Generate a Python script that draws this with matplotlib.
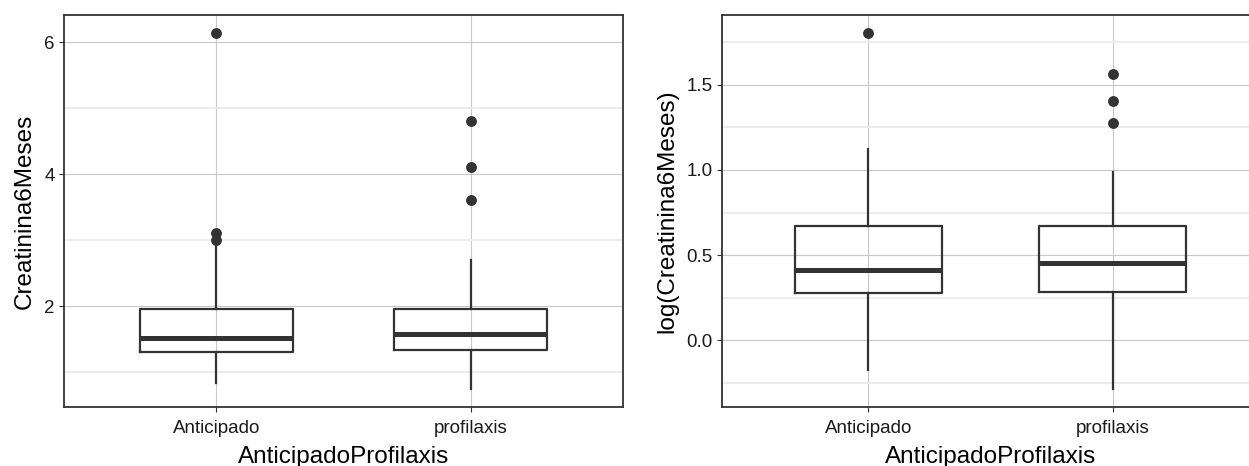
import matplotlib
matplotlib.use("Agg")
import matplotlib.pyplot as plt
from matplotlib.ticker import MultipleLocator

plt.rcParams['font.family'] = ['Liberation Sans', 'DejaVu Sans']

# values
groups = ["Anticipado", "profilaxis"]

# raw Creatinina6Meses
raw_whislo = [0.83, 0.74]
raw_q1 = [1.30, 1.33]
raw_med = [1.52, 1.58]
raw_q3 = [1.95, 1.95]
raw_whishi = [2.91, 2.70]
raw_fliers = [[3.0, 3.1, 6.14], [3.6, 4.1, 4.8]]

# log(Creatinina6Meses)
log_whislo = [-0.176, -0.288]
log_q1 = [0.276, 0.282]
log_med = [0.41, 0.453]
log_q3 = [0.67, 0.67]
log_whishi = [1.125, 0.988]
log_fliers = [[1.806], [1.276, 1.406, 1.565]]

ink = '#333333'
W, H = 1249, 466


def make_stats(lo, q1, med, q3, hi, fl):
    return [dict(label=g, whislo=lo[i], q1=q1[i], med=med[i], q3=q3[i],
                 whishi=hi[i], fliers=fl[i]) for i, g in enumerate(groups)]


def draw_panel(ax, stats, ylabel, major, minor):
    ax.bxp(stats, positions=[1, 2], widths=0.6, showcaps=False,
           boxprops=dict(color=ink, linewidth=1.6),
           whiskerprops=dict(color=ink, linewidth=1.6),
           medianprops=dict(color=ink, linewidth=3.6, solid_capstyle='butt'),
           flierprops=dict(marker='o', markerfacecolor=ink, markeredgecolor=ink,
                           markersize=6.8))
    ax.set_xlim(0.4, 2.6)
    # ggplot-like 5% expansion of the data range
    all_vals = []
    for s in stats:
        all_vals += [s['whislo'], s['whishi']] + list(s['fliers'])
    lo, hi = min(all_vals), max(all_vals)
    pad = (hi - lo) * 0.05
    ax.set_ylim(lo - pad, hi + pad)
    ax.yaxis.set_major_locator(MultipleLocator(major))
    ax.yaxis.set_minor_locator(MultipleLocator(minor))
    ax.set_axisbelow(True)
    ax.grid(True, which='major', color='#c8c8c8', linewidth=0.8)
    ax.grid(True, which='minor', axis='y', color='#ebebeb', linewidth=1.3)
    ax.tick_params(which='minor', length=0)
    ax.tick_params(which='major', length=3.5, width=0.8, color=ink,
                   labelsize=13.5, labelcolor='#1a1a1a')
    ax.tick_params(axis='x', pad=6)
    ax.tick_params(axis='y', pad=3)
    for sp in ax.spines.values():
        sp.set_color(ink)
        sp.set_linewidth(1.3)
    ax.set_xticks([1, 2])
    ax.set_xticklabels(groups)
    ax.set_xlabel("AnticipadoProfilaxis", fontsize=17.5, labelpad=6)
    ax.set_ylabel(ylabel, fontsize=17.5, labelpad=6)


fig = plt.figure(figsize=(W / 100, H / 100), dpi=100, facecolor='white')

ax1 = fig.add_axes([64 / W, (H - 407) / H, (623 - 64) / W, 392 / H])
draw_panel(ax1, make_stats(raw_whislo, raw_q1, raw_med, raw_q3, raw_whishi, raw_fliers),
           "Creatinina6Meses", 2, 1)
ax1.set_yticks([2, 4, 6])

ax2 = fig.add_axes([722 / W, (H - 407) / H, (1259 - 722) / W, 392 / H])
draw_panel(ax2, make_stats(log_whislo, log_q1, log_med, log_q3, log_whishi, log_fliers),
           "log(Creatinina6Meses)", 0.5, 0.25)

fig.savefig("out.png", dpi=100, facecolor='white')
